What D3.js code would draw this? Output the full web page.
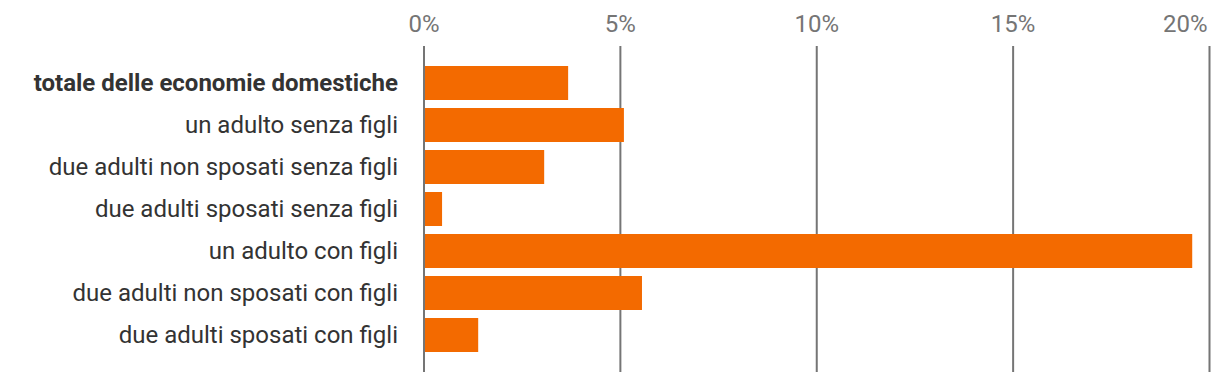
<!DOCTYPE html>
<html>
<head>
<meta charset="utf-8">
<script src="https://cdn.jsdelivr.net/npm/d3@7"></script>
<style>
  html, body { margin: 0; padding: 0; background: #fff; }
  svg { display: block; font-family: Roboto, "Noto Sans", sans-serif; }
</style>
</head>
<body>
<svg id="chart" width="1220" height="382"></svg>
<script>
const categories = [
  "totale delle economie domestiche",
  "un adulto senza figli",
  "due adulti non sposati senza figli",
  "due adulti sposati senza figli",
  "un adulto con figli",
  "due adulti non sposati con figli",
  "due adulti sposati con figli"
];
const values = [3.67, 5.09, 3.06, 0.46, 19.56, 5.55, 1.38];
const tickValues = [0, 5, 10, 15, 20];
const tickLabels = ["0%", "5%", "10%", "15%", "20%"];
const boldCategories = ["totale delle economie domestiche"];

const svg = d3.select("#chart");
const x = d3.scaleLinear().domain([0, 20]).range([424, 1209.5]);
const y = d3.scaleBand().domain(categories).range([62, 356]).paddingInner(8/42).paddingOuter(4/42);

// grid lines
svg.append("g").selectAll("line").data(tickValues).join("line")
  .attr("x1", d => x(d)).attr("x2", d => x(d))
  .attr("y1", 46).attr("y2", 372)
  .attr("stroke", "#757575").attr("stroke-width", 2);

// tick labels
svg.append("g").selectAll("text").data(tickValues).join("text")
  .attr("x", (d, i) => i === tickValues.length - 1 ? x(d) - 2 : x(d))
  .attr("y", 32)
  .attr("text-anchor", (d, i) => i === tickValues.length - 1 ? "end" : "middle")
  .attr("font-size", 24)
  .attr("fill", "#757575")
  .text((d, i) => tickLabels[i]);

// bars
svg.append("g").selectAll("rect").data(categories).join("rect")
  .attr("x", x(0) + 1)
  .attr("y", d => y(d))
  .attr("width", (d, i) => x(values[i]) - x(0) - 1)
  .attr("height", y.bandwidth())
  .attr("fill", "#f36a00");

// category labels
svg.append("g").selectAll("text").data(categories).join("text")
  .attr("x", 398)
  .attr("y", d => y(d) + y.bandwidth() / 2)
  .attr("dy", "0.35em")
  .attr("text-anchor", "end")
  .attr("font-size", 24)
  .attr("font-weight", d => boldCategories.includes(d) ? 700 : 400)
  .attr("fill", "#333333")
  .text(d => d);
</script>
</body>
</html>
